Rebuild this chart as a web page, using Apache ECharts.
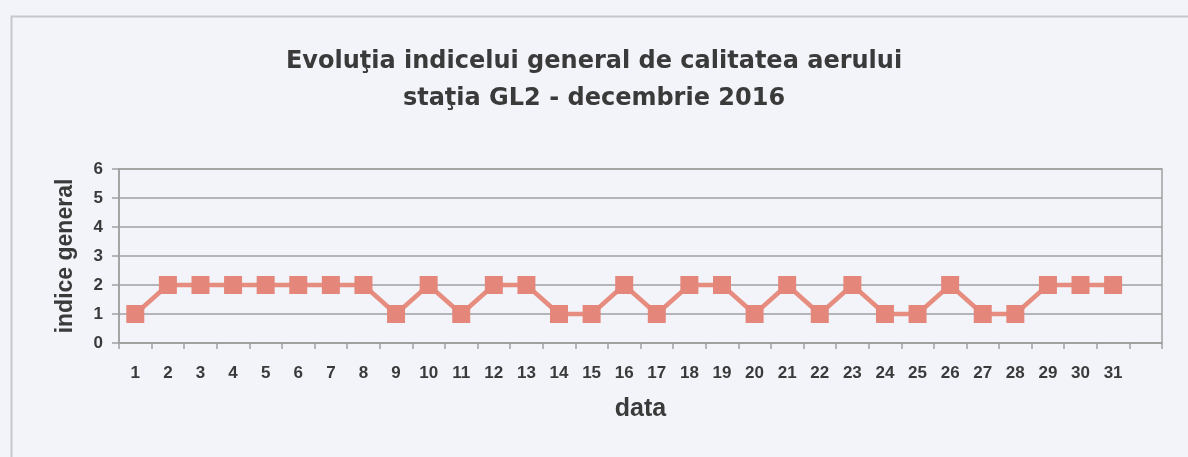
<!DOCTYPE html>
<html>
<head>
<meta charset="utf-8">
<script src="https://cdn.jsdelivr.net/npm/echarts@6/dist/echarts.min.js"></script>
<style>
  html, body { margin: 0; padding: 0; background: #f2f4fa; }
  #chart { width: 1188px; height: 457px; }
</style>
</head>
<body>
<div id="chart"></div>
<script>
// zile din decembrie (ultima pozitie de pe axa e goala)
const days = ['1', '2', '3', '4', '5', '6', '7', '8', '9', '10', '11', '12', '13', '14', '15', '16',
  '17', '18', '19', '20', '21', '22', '23', '24', '25', '26', '27', '28', '29', '30', '31', ''];
// indice general GL2
const indexValues = [1, 2, 2, 2, 2, 2, 2, 2, 1, 2, 1, 2, 2, 1, 1, 2,
  1, 2, 2, 1, 2, 1, 2, 1, 1, 2, 1, 1, 2, 2, 2, '-'];
const yTicks = [0, 1, 2, 3, 4, 5, 6];

const chart = echarts.init(document.getElementById('chart'));

const option = {
  backgroundColor: '#f2f4fa',
  animation: false,
  title: {
    text: 'Evoluţia indicelui general de calitatea aerului\nstaţia GL2 - decembrie 2016',
    left: 'center',
    top: 38,
    textStyle: {
      fontFamily: 'DejaVu Sans',
      fontWeight: 'bold',
      fontSize: 24,
      lineHeight: 37,
      color: '#3a3a3a'
    }
  },
  // chenarul exterior al graficului
  graphic: [
    {
      type: 'rect',
      left: 9,
      top: 14,
      shape: { width: 1220, height: 500 },
      style: { fill: 'none', stroke: '#c6c7cc', lineWidth: 2 },
      silent: true
    }
  ],
  grid: {
    left: 119,
    right: 26,
    top: 169,
    bottom: 114,
    show: true,
    borderColor: '#a0a0a0',
    borderWidth: 1.5
  },
  xAxis: {
    type: 'category',
    data: days,
    boundaryGap: true,
    name: 'data',
    nameLocation: 'middle',
    nameGap: 54,
    nameTextStyle: {
      fontFamily: 'Liberation Sans',
      fontWeight: 'bold',
      fontSize: 25,
      color: '#3a3a3a'
    },
    axisLine: { lineStyle: { color: '#a0a0a0', width: 1.5 } },
    axisTick: { show: true, length: 6, lineStyle: { color: '#a0a0a0', width: 1.5 } },
    axisLabel: {
      interval: 0,
      margin: 22,
      fontFamily: 'Liberation Sans',
      fontWeight: 'bold',
      fontSize: 17,
      color: '#3a3a3a'
    },
    splitLine: { show: false }
  },
  yAxis: {
    type: 'value',
    min: yTicks[0],
    max: yTicks[yTicks.length - 1],
    interval: 1,
    name: 'indice general',
    nameLocation: 'middle',
    nameGap: 42,
    nameRotate: 90,
    nameTextStyle: {
      fontFamily: 'Liberation Sans',
      fontWeight: 'bold',
      fontSize: 23,
      color: '#3a3a3a'
    },
    axisLine: { show: true, lineStyle: { color: '#a0a0a0', width: 1.5 } },
    axisTick: { show: true, length: 7, lineStyle: { color: '#a0a0a0', width: 1.5 } },
    axisLabel: {
      margin: 16,
      fontFamily: 'Liberation Sans',
      fontWeight: 'bold',
      fontSize: 17,
      color: '#3a3a3a'
    },
    splitLine: { show: true, lineStyle: { color: '#a0a0a0', width: 1.5 } }
  },
  series: [
    {
      name: 'indice general',
      type: 'line',
      data: indexValues,
      symbol: 'rect',
      symbolSize: 18,
      showAllSymbol: true,
      lineStyle: { color: '#e68d80', width: 4.5 },
      itemStyle: { color: '#e4867a' },
      emphasis: { disabled: true }
    }
  ]
};

chart.setOption(option);
</script>
</body>
</html>
